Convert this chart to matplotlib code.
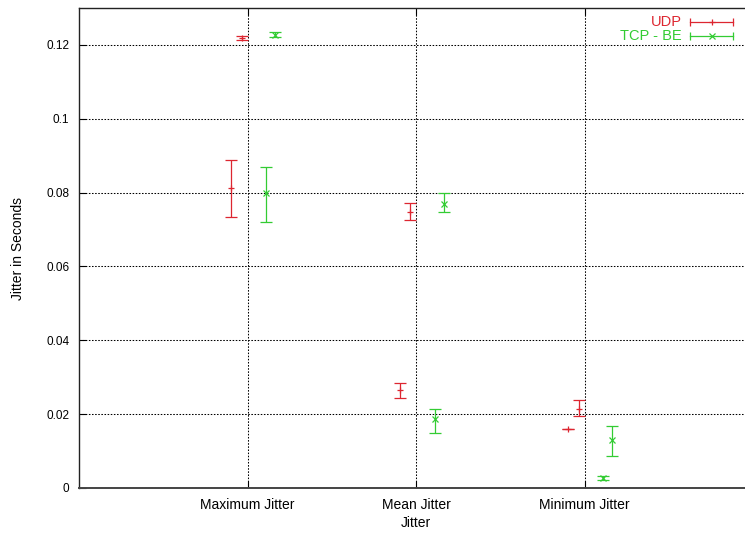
import numpy as np
import matplotlib
matplotlib.use("Agg")
from matplotlib import pyplot as plt

categories = ["Maximum Jitter", "Mean Jitter", "Minimum Jitter"]
yticks = [0, 0.02, 0.04, 0.06, 0.08, 0.1, 0.12]

# UDP runs (two sets)
udp1_mean = [0.1218, 0.0748, 0.0213]
udp1_low = [0.1212, 0.0726, 0.0195]
udp1_high = [0.1225, 0.0772, 0.0238]
udp2_mean = [0.0813, 0.0265, 0.0160]
udp2_low = [0.0734, 0.0244, 0.0160]
udp2_high = [0.0888, 0.0284, 0.0160]

# TCP - BE runs (two sets)
tcp1_mean = [0.0799, 0.0187, 0.0027]
tcp1_low = [0.0720, 0.0149, 0.0022]
tcp1_high = [0.0869, 0.0214, 0.0032]
tcp2_mean = [0.1228, 0.0769, 0.0130]
tcp2_low = [0.1222, 0.0748, 0.0087]
tcp2_high = [0.1235, 0.0799, 0.0168]

RED = "#dd2630"
GREEN = "#33cc33"

plt.rcParams['font.family'] = ['Liberation Sans', 'DejaVu Sans']

fig = plt.figure(figsize=(7.45, 5.39), dpi=100)
ax = fig.add_axes([79/745, 1-488/539, 674/745, 480/539])

x = np.arange(1, len(categories)+1)

def errbars(offset, mean, low, high, color, marker):
    mean = np.array(mean)
    err = [mean-np.array(low), np.array(high)-mean]
    ax.errorbar(x+offset, mean, yerr=err, fmt=marker, color=color, ecolor=color,
                elinewidth=0.9, capsize=4.5, capthick=0.9, markersize=5,
                markeredgewidth=0.9, zorder=3)

errbars(-0.035, udp1_mean, udp1_low, udp1_high, RED, '+')
errbars(-0.095, udp2_mean, udp2_low, udp2_high, RED, '+')
errbars(0.11, tcp1_mean, tcp1_low, tcp1_high, GREEN, 'x')
errbars(0.165, tcp2_mean, tcp2_low, tcp2_high, GREEN, 'x')

ax.set_xlim(0, 4)
ax.set_ylim(0, 0.13)
ax.set_xticks(x)
ax.set_xticklabels(categories, fontsize=10)
ax.set_yticks(yticks)
ax.set_yticklabels(["0", "0.02", "0.04", "0.06", "0.08", "0.1", "0.12"], fontsize=8.5)
ax.grid(True, color="black", linestyle=(0, (1.5, 1.5)), linewidth=0.75)
ax.set_axisbelow(True)
ax.tick_params(direction='in', length=5, width=0.8, top=True, right=True, pad=7)
for s in ax.spines.values():
    s.set_linewidth(1.0)
    s.set_color("#222222")
ax.spines['bottom'].set_linewidth(1.4)
ax.spines['bottom'].set_color("#444444")

ax.set_xlabel("Jitter", fontsize=10, labelpad=3)
ax.set_ylabel("Jitter in Seconds", fontsize=10, labelpad=15)

# gnuplot-style key in the top right corner
tr = ax.transAxes
def key(row_y, label, color, marker):
    x0, x1 = 0.906, 0.971
    ax.text(x0-0.012, row_y, label, transform=tr, color=color, fontsize=10.5,
            ha='right', va='center')
    ax.plot([x0, x1], [row_y, row_y], transform=tr, color=color, lw=0.9, clip_on=False)
    ax.plot([x0, x1], [row_y, row_y], transform=tr, color=color, lw=0, marker='|',
            markersize=6, markeredgewidth=0.9, clip_on=False)
    ax.plot([(x0+x1)/2], [row_y], transform=tr, color=color, marker=marker,
            markersize=5, markeredgewidth=0.9, clip_on=False)

key(1-14/480, "UDP", RED, '+')
key(1-28/480, "TCP - BE", GREEN, 'x')

fig.savefig("out.png", dpi=100)
